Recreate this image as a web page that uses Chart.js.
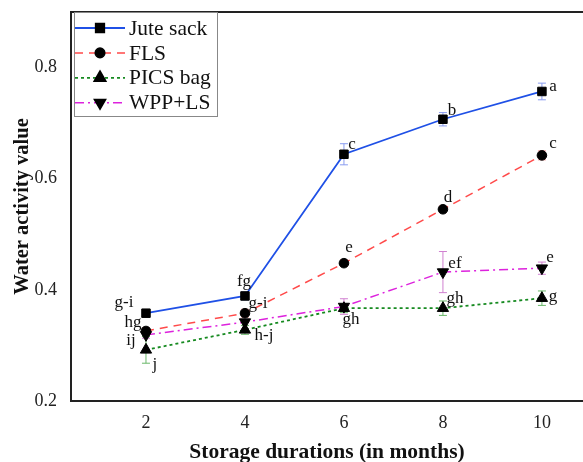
<!DOCTYPE html>
<html>
<head>
<meta charset="utf-8">
<script src="https://cdn.jsdelivr.net/npm/chart.js@4.4.1/dist/chart.umd.min.js"></script>
<style>
  html, body { margin: 0; padding: 0; background: #fff; overflow: hidden; }
  #wrap { width: 583px; height: 462px; position: relative; }
</style>
</head>
<body>
<div id="wrap"><canvas id="waterChart"></canvas></div>
<script>
// Data
const months = [2, 4, 6, 8, 10];
const yTicks = [0.2, 0.4, 0.6, 0.8];

const juteSack = [0.358, 0.389, 0.644, 0.707, 0.757];
const fls      = [0.326, 0.358, 0.448, 0.545, 0.642];
const picsBag  = [0.292, 0.328, 0.367, 0.367, 0.385];
const wppLs    = [0.319, 0.342, 0.370, 0.432, 0.439];

// error bars (+/-)
const juteErr = [0.006, 0.007, 0.019, 0.012, 0.015];
const flsErr  = [0.006, 0.007, 0.006, 0.006, 0.008];
const picsErr = [0.024, 0.008, 0.008, 0.013, 0.013];
const wppErr  = [0.006, 0.012, 0.014, 0.037, 0.011];

// significance letters
const juteLetters = ['g-i', 'fg', 'c', 'b', 'a'];
const flsLetters  = ['hg', 'g-i', 'e', 'd', 'c'];
const picsLetters = ['j', 'h-j', 'gh', 'gh', 'g'];
const wppLetters  = ['ij', '', '', 'ef', 'e'];

// letter offsets in px (dx, dy) from the marker
const juteOff = [[-22, -11], [-1, -14], [8, -10], [9, -9], [11, -5]];
const flsOff  = [[-13, -8], [13, -10], [5, -16], [5, -12], [11, -12]];
const picsOff = [[9, 15], [19, 6], [7, 11], [12, -10], [11, -2]];
const wppOff  = [[-15, 6], [0, 0], [0, 0], [12, -9], [8, -11]];

const serif = "'Liberation Serif', 'Times New Roman', serif";

function pts(vals) {
  return months.map((m, i) => ({ x: m, y: vals[i] }));
}

const datasets = [
  {
    label: 'Jute sack', data: pts(juteSack), err: juteErr, letters: juteLetters, off: juteOff,
    borderColor: '#1f50e6', borderWidth: 1.8, borderDash: [],
    pointStyle: 'rect', pointRadius: 6, pointRotation: 0, errColor: '#8a9cf0'
  },
  {
    label: 'FLS', data: pts(fls), err: flsErr, letters: flsLetters, off: flsOff,
    borderColor: '#ff4a4a', borderWidth: 1.5, borderDash: [8, 6],
    pointStyle: 'circle', pointRadius: 4.8, pointRotation: 0, errColor: '#f09090'
  },
  {
    label: 'PICS bag', data: pts(picsBag), err: picsErr, letters: picsLetters, off: picsOff,
    borderColor: '#168a20', borderWidth: 1.8, borderDash: [3, 3],
    pointStyle: 'triangle', pointRadius: 6.5, pointRotation: 0, errColor: '#6ab86a'
  },
  {
    label: 'WPP+LS', data: pts(wppLs), err: wppErr, letters: wppLetters, off: wppOff,
    borderColor: '#dd22dd', borderWidth: 1.5, borderDash: [9, 4, 2, 4],
    pointStyle: 'triangle', pointRadius: 6.5, pointRotation: 180, errColor: '#d080d0'
  }
];

datasets.forEach(d => {
  d.pointBackgroundColor = '#000';
  d.pointBorderColor = '#000';
  d.pointBorderWidth = 1;
  d.tension = 0;
  d.fill = false;
});

// Error bars drawn through the scales
const errorBars = {
  id: 'errorBars',
  beforeDatasetsDraw(chart) {
    const { ctx, scales: { x, y } } = chart;
    ctx.save();
    ctx.lineWidth = 1;
    chart.data.datasets.forEach(ds => {
      ctx.strokeStyle = ds.errColor;
      ds.data.forEach((p, i) => {
        const px = x.getPixelForValue(p.x);
        const top = y.getPixelForValue(p.y + ds.err[i]);
        const bot = y.getPixelForValue(p.y - ds.err[i]);
        ctx.beginPath();
        ctx.moveTo(px, top); ctx.lineTo(px, bot);
        ctx.moveTo(px - 4, top); ctx.lineTo(px + 4, top);
        ctx.moveTo(px - 4, bot); ctx.lineTo(px + 4, bot);
        ctx.stroke();
      });
    });
    ctx.restore();
  }
};

// Letters, top frame line and boxed legend
const extras = {
  id: 'extras',
  afterDraw(chart) {
    const { ctx, chartArea: ca, scales: { x, y } } = chart;
    ctx.save();

    // letters
    ctx.fillStyle = '#111';
    ctx.font = '17px ' + serif;
    ctx.textAlign = 'center';
    ctx.textBaseline = 'middle';
    chart.data.datasets.forEach(ds => {
      ds.data.forEach((p, i) => {
        if (!ds.letters[i]) return;
        const px = x.getPixelForValue(p.x) + ds.off[i][0];
        const py = y.getPixelForValue(p.y) + ds.off[i][1];
        ctx.fillText(ds.letters[i], px, py);
      });
    });

    // top frame line
    ctx.strokeStyle = '#222';
    ctx.lineWidth = 2;
    ctx.beginPath();
    ctx.moveTo(ca.left - 1, ca.top);
    ctx.lineTo(ca.right, ca.top);
    ctx.stroke();

    // legend box
    const bx = ca.left + 3, by = ca.top, bw = 143, bh = 104;
    ctx.fillStyle = '#fff';
    ctx.fillRect(bx, by + 1, bw, bh - 1);
    ctx.strokeStyle = '#888';
    ctx.lineWidth = 1;
    ctx.strokeRect(bx + 0.5, by + 0.5, bw, bh);

    ctx.font = '21.5px ' + serif;
    ctx.textAlign = 'left';
    chart.data.datasets.forEach((ds, i) => {
      const ly = by + 16 + i * 24.9;
      ctx.strokeStyle = ds.borderColor;
      ctx.lineWidth = ds.borderWidth;
      ctx.setLineDash(ds.borderDash);
      ctx.beginPath();
      ctx.moveTo(bx + 1, ly);
      ctx.lineTo(bx + 51, ly);
      ctx.stroke();
      ctx.setLineDash([]);
      ctx.fillStyle = '#000';
      ctx.strokeStyle = '#000';
      Chart.helpers.drawPoint(ctx, {
        pointStyle: ds.pointStyle, radius: ds.pointRadius,
        rotation: ds.pointRotation, borderWidth: 1
      }, bx + 26, ly);
      ctx.fillStyle = '#111';
      ctx.fillText(ds.label, bx + 55, ly + 1);
    });
    ctx.restore();
  }
};

new Chart(document.getElementById('waterChart').getContext('2d'), {
  type: 'line',
  data: { datasets },
  plugins: [errorBars, extras],
  options: {
    responsive: true,
    maintainAspectRatio: false,
    animation: false,
    layout: { autoPadding: false, padding: { top: 12, right: 0, left: 0, bottom: 0 } },
    plugins: {
      legend: { display: false },
      tooltip: { enabled: false }
    },
    scales: {
      x: {
        type: 'linear',
        min: 0.485,
        max: 10.83,
        afterFit: s => { s.height = 61; s.paddingLeft = 0; s.paddingRight = 0; },
        afterBuildTicks: s => { s.ticks = months.map(v => ({ value: v })); },
        grid: { display: false, drawTicks: false },
        border: { display: true, color: '#222', width: 2 },
        ticks: { color: '#222', padding: 11, font: { family: serif, size: 18 } },
        title: {
          display: true,
          text: 'Storage durations (in months)',
          color: '#111',
          padding: { top: 0, bottom: -1 },
          font: { family: serif, size: 21.5, weight: 'bold', lineHeight: 1 }
        }
      },
      y: {
        min: 0.2,
        max: 0.9,
        afterFit: s => { s.width = 71; s.paddingTop = 0; s.paddingBottom = 0; },
        afterBuildTicks: s => { s.ticks = yTicks.map(v => ({ value: v })); },
        grid: { display: false, drawTicks: false },
        border: { display: true, color: '#222', width: 2 },
        ticks: {
          color: '#222', padding: 14, font: { family: serif, size: 18 },
          callback: v => v.toFixed(1)
        },
        title: {
          display: true,
          text: 'Water activity value',
          color: '#111',
          padding: { top: 12, bottom: 0 },
          font: { family: serif, size: 20.5, weight: 'bold', lineHeight: 1 }
        }
      }
    }
  }
});
</script>
</body>
</html>
